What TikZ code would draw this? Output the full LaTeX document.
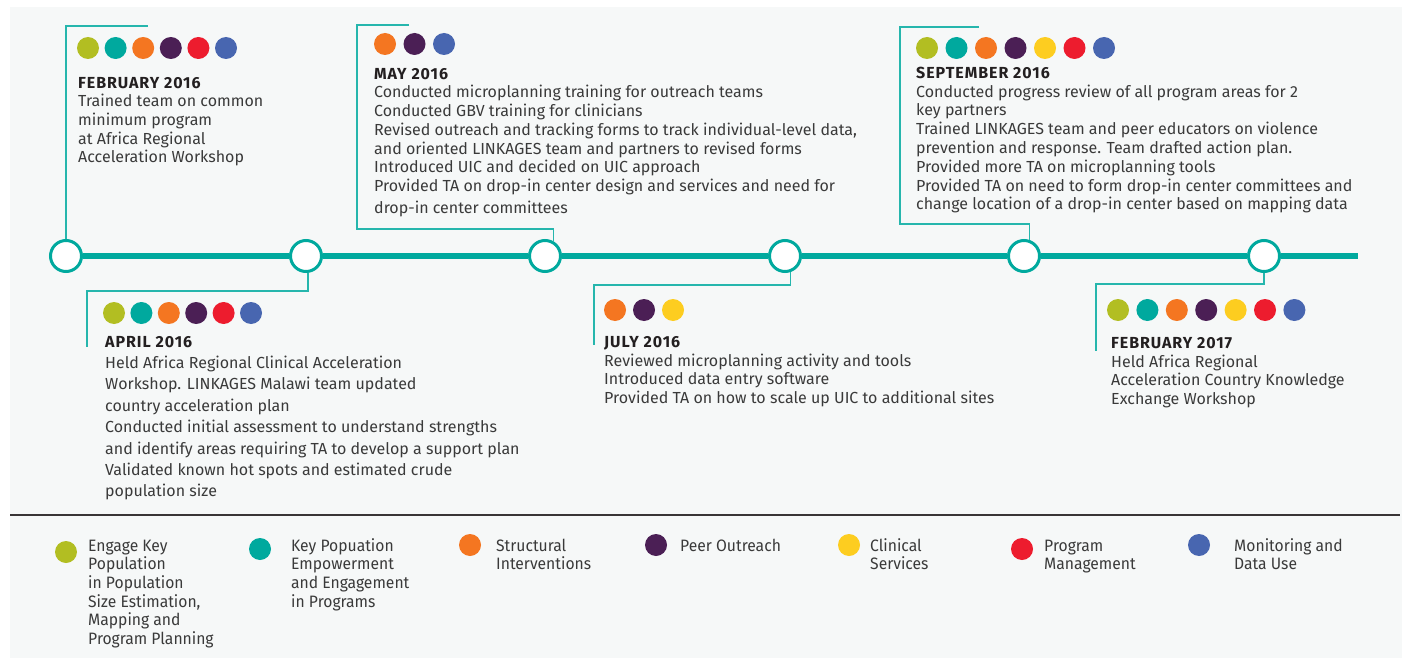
\documentclass[tikz,border=0pt]{standalone}
\usepackage{fontspec}
\setmainfont{Fira Sans}
\newfontfamily\legendface[FakeStretch=0.95]{Fira Sans}
\newfontfamily\headface[LetterSpace=6]{Fira Sans}
\usetikzlibrary{calc}

\definecolor{cPanel}{HTML}{F6F8F8}
\definecolor{cText}{HTML}{3A3A3A}
\definecolor{cHead}{HTML}{231F20}
\definecolor{cLine}{HTML}{00A99E}
\definecolor{cOlive}{HTML}{B2BE22}
\definecolor{cTeal}{HTML}{00A99E}
\definecolor{cOrange}{HTML}{F47621}
\definecolor{cPurple}{HTML}{4B1F55}
\definecolor{cYellow}{HTML}{FDCD20}
\definecolor{cRed}{HTML}{ED1C2E}
\definecolor{cBlue}{HTML}{4866B0}

\newcommand{\entryfont}[1]{\fontsize{16}{#1}\selectfont}
\newcommand{\head}[1]{\strut{\headface\bfseries\color{cHead}#1}}
% row of focus-area dots: name, x, y, step, colours
\newcommand{\areadots}[5]{%
  \foreach \c [count=\i] in {#5}
    \node[areadot, fill=\c] (#1-\i) at ({#2+(\i-1)*#4}, #3) {};}

\begin{document}
\begin{tikzpicture}[x=1pt, y=-1pt,
  areadot/.style={circle, minimum size=22pt, inner sep=0pt},
  milestone/.style={circle, draw=cLine, line width=3pt, fill=white, minimum size=31pt, inner sep=0pt},
  timeline/.style={cLine, line width=5.5pt},
  leader/.style={cLine!85, line width=1.2pt},
  entry/.style={align=left, anchor=north west, inner sep=0pt, text=cText},
  legenddot/.style={circle, minimum size=22pt, inner sep=0pt},
  legendtext/.style={align=left, anchor=north west, inner sep=0pt, text=cText,
    font=\legendface\fontsize{16.5}{18.6}\selectfont}]
\useasboundingbox (0,0) rectangle (1408,658);
\fill[cPanel] (10,7) rectangle (1402,658);

% milestones
\node[milestone] (m1) at (66,256) {};
\node[milestone] (m2) at (306,256) {};
\node[milestone] (m3) at (545,256) {};
\node[milestone] (m4) at (785,256) {};
\node[milestone] (m5) at (1024,256) {};
\node[milestone] (m6) at (1264,256) {};
\coordinate (tlend) at (1358,256);
\draw[timeline] (m1) -- (m2) -- (m3) -- (m4) -- (m5) -- (m6) -- (tlend);

% leaders
\coordinate (k1) at (148,26);
\coordinate (k2) at (87,347);
\coordinate (k3) at (409,25);
\coordinate (k4) at (594,345);
\coordinate (k5) at (979,27);
\coordinate (k6) at (1096,351);
\draw[leader] (m1.north) |- (k1);
\draw[leader] (m2.-83) |- (87,291) -- (k2);
\draw[leader] (k3) -| (357,229) -| (m3.59);
\draw[leader] (m4.-70) |- (594,285) -- (k4);
\draw[leader] (k5) -| (900,224) -| (m5.72);
\draw[leader] (m6.south) |- (1096,284) -- (k6);

% dots
\areadots{d1}{88}{48}{27.6}{cOlive,cTeal,cOrange,cPurple,cRed,cBlue}
\areadots{d2}{114}{313}{27.4}{cOlive,cTeal,cOrange,cPurple,cRed,cBlue}
\areadots{d3}{385}{44}{29.5}{cOrange,cPurple,cBlue}
\areadots{d4}{615}{310}{29}{cOrange,cPurple,cYellow}
\areadots{d5}{927}{48}{29.5}{cOlive,cTeal,cOrange,cPurple,cYellow,cRed,cBlue}
\areadots{d6}{1118}{310}{29.4}{cOlive,cTeal,cOrange,cPurple,cYellow,cRed,cBlue}

% entries
\node[entry, font=\entryfont{18.6}] (e1) at (78,75) {\head{FEBRUARY 2016}\\
  Trained team on common\\
  minimum program\\
  at Africa Regional\\
  Acceleration Workshop};
\node[entry, font=\entryfont{21.4}] (e2) at (105,332) {\head{APRIL 2016}\\
  Held Africa Regional Clinical Acceleration\\
  Workshop. LINKAGES Malawi team updated\\
  country acceleration plan\\
  Conducted initial assessment to understand strengths\\
  and identify areas requiring TA to develop a support plan\\
  Validated known hot spots and estimated crude\\
  population size};
\node[entry, font=\entryfont{18.7}] (e3) at (374,66) {\head{MAY 2016}\\
  Conducted microplanning training for outreach teams\\
  Conducted GBV training for clinicians\\
  Revised outreach and tracking forms to track individual-level data,\\
  and oriented LINKAGES team and partners to revised forms\\
  Introduced UIC and decided on UIC approach\\
  Provided TA on drop-in center design and services and need for\\[3pt]
  drop-in center committees};
\node[entry, font=\entryfont{18.8}] (e4) at (604,334) {\head{JULY 2016}\\
  Reviewed microplanning activity and tools\\
  Introduced data entry software\\
  Provided TA on how to scale up UIC to additional sites};
\node[entry, font=\entryfont{18.8}] (e5) at (916,65) {\head{SEPTEMBER 2016}\\
  Conducted progress review of all program areas for 2\\
  key partners\\
  Trained LINKAGES team and peer educators on violence\\
  prevention and response. Team drafted action plan.\\
  Provided more TA on microplanning tools\\
  Provided TA on need to form drop-in center committees and\\
  change location of a drop-in center based on mapping data};
\node[entry, font=\entryfont{18.8}] (e6) at (1111,335) {\head{FEBRUARY 2017}\\
  Held Africa Regional\\
  Acceleration Country Knowledge\\
  Exchange Workshop};

% legend
\coordinate (rulestart) at (10,515);
\coordinate (ruleend) at (1400,515);
\draw[cHead!90, line width=1.2pt] (rulestart) -- (ruleend);
\foreach \n/\dx/\dy/\tx/\c/\t in {
  1/66/552/88/cOlive/{Engage Key\\Population\\in Population\\Size Estimation,\\Mapping and\\Program Planning},
  2/260/549/291/cTeal/{Key Popuation\\Empowerment\\and Engagement\\in Programs},
  3/470/545/496/cOrange/{Structural\\Interventions},
  4/656/545/680/cPurple/{Peer Outreach},
  5/849/545/870/cYellow/{Clinical\\Services},
  6/1022/549/1044/cRed/{Program\\Management},
  7/1199/545/1234/cBlue/{Monitoring and\\Data Use}}
{
  \node[legenddot, fill=\c] (ld\n) at (\dx,\dy) {};
  \node[legendtext] (lt\n) at (\tx,538) {\strut\t};
}
\end{tikzpicture}
\end{document}
